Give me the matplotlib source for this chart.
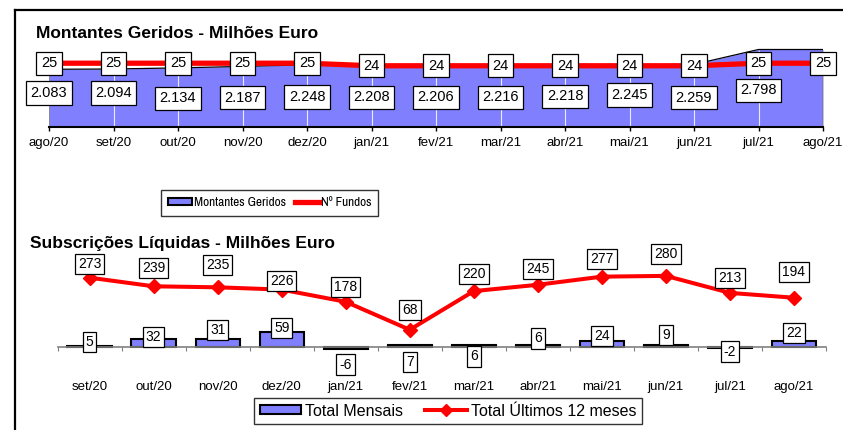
import numpy as np
import matplotlib
matplotlib.use("Agg")
import matplotlib.pyplot as plt
from matplotlib.patches import Patch
from matplotlib.lines import Line2D

plt.rcParams["font.family"] = ["Liberation Sans", "DejaVu Sans"]

# ------------------------------------------------------------------
# Data
# ------------------------------------------------------------------
meses_top = ["ago/20", "set/20", "out/20", "nov/20", "dez/20", "jan/21", "fev/21",
             "mar/21", "abr/21", "mai/21", "jun/21", "jul/21", "ago/21"]
montantes = [2083, 2094, 2134, 2187, 2248, 2208, 2206, 2216, 2218, 2245, 2259, 2798, 2798]
montantes_lbl = ["2.083", "2.094", "2.134", "2.187", "2.248", "2.208", "2.206",
                 "2.216", "2.218", "2.245", "2.259", "2.798"]
n_fundos = [25, 25, 25, 25, 25, 24, 24, 24, 24, 24, 24, 25, 25]

meses_bot = ["set/20", "out/20", "nov/20", "dez/20", "jan/21", "fev/21",
             "mar/21", "abr/21", "mai/21", "jun/21", "jul/21", "ago/21"]
total_mensais = [5, 32, 31, 59, -6, 7, 6, 6, 24, 9, -2, 22]
total_12m = [273, 239, 235, 226, 178, 68, 220, 245, 277, 280, 213, 194]

# label nudges in pixels (up is +), as placed in the original
area_lbl_dy = [5, 5, -1, -1, -1, -1, -1, -1, 0, 1, -2, -2]
bar_lbl_dy = [4, 2, 9, 4, -16, -17, -11, 7, 5, 10, -4, 8]
line_lbl_dy = [14, 18, 22, 9, 15, 20, 17, 16, 18, 22, 15, 26]

BLUE = "#8080ff"
NARROW = ["Archivo Narrow", "PT Sans Narrow", "Roboto Condensed", "Liberation Sans"]
W, H = 843, 430


def px_box(left, top, right, bottom):
    """Axes rectangle from pixel edges (origin top-left)."""
    return [left / W, 1 - bottom / H, (right - left) / W, (bottom - top) / H]


def label(ax, text, xy, dy, size=10, pad=0.3):
    ax.annotate(text, xy, xytext=(0, dy), textcoords="offset pixels",
                ha="center", va="center", fontsize=size, zorder=6,
                bbox=dict(boxstyle=f"square,pad={pad}", fc="white", ec="black", lw=0.9))


fig = plt.figure(figsize=(W / 100, H / 100), dpi=100)

# outer frame (left + top)
fig.add_artist(Line2D([15 / W, 15 / W], [0, 1 - 10 / H], transform=fig.transFigure,
                      color="black", lw=1.6))
fig.add_artist(Line2D([15 / W, 1], [1 - 10 / H, 1 - 10 / H], transform=fig.transFigure,
                      color="black", lw=1.6))

# ------------------------------------------------------------------
# Top chart: Montantes Geridos
# ------------------------------------------------------------------
fig.text(36 / W, 1 - 37.5 / H, "Montantes Geridos - Milhões Euro",
         fontsize=12.5, fontweight="bold", va="baseline")

ax = fig.add_axes(px_box(49, 40, 823, 127))
x = np.arange(len(meses_top))
ax.fill_between(x, 0, montantes, color=BLUE, lw=0, zorder=1)
ax.vlines(x[1:-1], 0, montantes[1:-1], color="white", lw=0.8, alpha=0.85, zorder=1.5)
ax.vlines([x[0], x[-1]], 0, [montantes[0], montantes[-1]], color="#808080", lw=1.2, zorder=1.5)
ax.plot(x, montantes, color="black", lw=0.9, zorder=2)
ax.set_xlim(0, 12)
ax.set_ylim(0, 3141)
ax.set_xticks(x, meses_top)
ax.set_yticks([])
for s in ["top", "right", "left"]:
    ax.spines[s].set_visible(False)
ax.spines["bottom"].set_linewidth(1.5)
ax.tick_params(axis="x", direction="out", length=3, width=1, pad=4, labelsize=9.5)
for i, t in enumerate(montantes_lbl):
    label(ax, t, (i, montantes[i] / 2), area_lbl_dy[i], size=10.5, pad=0.32)

ax2 = ax.twinx()
ax2.set_ylim(0, 34.1)
ax2.plot(x, n_fundos, color="red", lw=3.8, solid_capstyle="butt", zorder=3)
ax2.set_yticks([])
for s in ax2.spines.values():
    s.set_visible(False)
for i, v in enumerate(n_fundos):
    label(ax2, str(v), (i, v), 0, size=10.5, pad=0.32)

leg1 = fig.legend(handles=[Patch(facecolor=BLUE, edgecolor="black", lw=1.5),
                           Line2D([], [], color="red", lw=3.8)],
                  labels=["Montantes Geridos", "Nº Fundos"],
                  loc="center", bbox_to_anchor=(269.5 / W, 1 - 203 / H), ncol=2,
                  frameon=True, fancybox=False, edgecolor="black",
                  handlelength=1.8, handleheight=0.45, handletextpad=0.15, columnspacing=0.7,
                  borderpad=0.55, prop={"family": NARROW, "size": 9.5})
leg1.get_frame().set_linewidth(1.0)

# ------------------------------------------------------------------
# Bottom chart: Subscrições Líquidas
# ------------------------------------------------------------------
fig.text(30 / W, 1 - 248 / H, "Subscrições Líquidas - Milhões Euro",
         fontsize=12.5, fontweight="bold", va="baseline")

bx = fig.add_axes(px_box(57.5, 255, 826, 380))
xb = np.arange(len(meses_bot))
bx.bar(xb, total_mensais, width=0.69, color=BLUE, edgecolor="black", lw=1.5, zorder=2)
bx.plot(xb, total_12m, color="red", lw=2.9, marker="D", ms=7, zorder=3)
bx.set_xlim(-0.5, 11.5)
bx.set_ylim(-129.9, 362.2)
bx.set_yticks([])
for s in ["top", "right", "left"]:
    bx.spines[s].set_visible(False)
bx.spines["bottom"].set_position(("data", 0))
bx.spines["bottom"].set_color("#808080")
bx.spines["bottom"].set_linewidth(1.2)
bx.set_xticks(np.arange(-0.5, 11.6, 1))
bx.set_xticklabels([])
bx.set_xticks(xb, meses_bot, minor=True)
bx.tick_params(axis="x", which="major", direction="out", length=3, color="#808080")
bx.tick_params(axis="x", which="minor", length=0, pad=24.5, labelsize=9.5)
for i, v in enumerate(total_mensais):
    label(bx, str(v), (i, v), bar_lbl_dy[i], size=10, pad=0.22)
for i, v in enumerate(total_12m):
    label(bx, str(v), (i, v), line_lbl_dy[i], size=10, pad=0.22)

leg2 = fig.legend(handles=[Patch(facecolor=BLUE, edgecolor="black", lw=1.5),
                           Line2D([], [], color="red", lw=2.9, marker="D", ms=6)],
                  labels=["Total Mensais", "Total Últimos 12 meses"],
                  loc="center", bbox_to_anchor=(448 / W, 1 - 411 / H), ncol=2,
                  fontsize=11.5, frameon=True, fancybox=False, edgecolor="black",
                  handlelength=2.6, handleheight=0.5, handletextpad=0.25, columnspacing=1.4,
                  borderpad=0.35)
leg2.get_frame().set_linewidth(1.0)

fig.savefig("out.png", dpi=100)
